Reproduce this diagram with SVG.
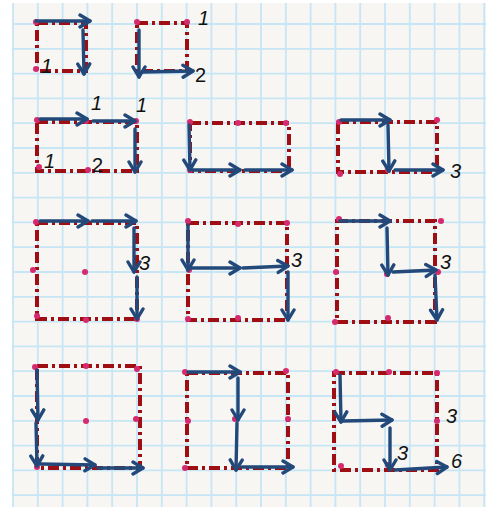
<svg xmlns="http://www.w3.org/2000/svg" width="490" height="508" viewBox="0 0 490 508">
<style>
.paper{fill:#f7f6f3}
.grid{stroke:#c6e5f5;stroke-width:1.8;fill:none}
.frame{fill:none;stroke:#9e0e12;stroke-width:4;stroke-dasharray:11 4 3 4}
.dot{fill:#d62a6f}
.arr{fill:none;stroke:#22497a;stroke-width:3.4;stroke-linecap:round;stroke-linejoin:round;marker-end:url(#head)}
.lbl{font-family:"Liberation Sans",Arial,sans-serif;font-size:20px;font-style:italic;fill:#111}
.up{font-style:normal}
</style>
<defs>
<marker id="head" viewBox="-12 -9 15 18" markerWidth="15" markerHeight="18" refX="0" refY="0" orient="auto" markerUnits="userSpaceOnUse">
<path d="M-10,-6 L0,0 L-10,6" fill="none" stroke="#22497a" stroke-width="3.4" stroke-linecap="round" stroke-linejoin="round"/>
</marker>
</defs>
<rect width="490" height="508" fill="#ffffff"/>
<rect class="paper" x="13" y="3" width="473" height="504"/>
<path class="grid" d="M13,3V507M37.8,3V507M62.6,3V507M87.4,3V507M112.2,3V507M137,3V507M161.8,3V507M186.6,3V507M211.4,3V507M236.2,3V507M261,3V507M285.8,3V507M310.6,3V507M335.4,3V507M360.2,3V507M385,3V507M409.8,3V507M434.6,3V507M459.4,3V507M484.2,3V507
M13,24H486M13,48.8H486M13,73.6H486M13,98.4H486M13,123.2H486M13,148H486M13,172.8H486M13,197.6H486M13,222.4H486M13,247.2H486M13,272H486M13,296.8H486M13,321.6H486M13,346.4H486M13,371.2H486M13,396H486M13,420.8H486M13,445.6H486M13,470.4H486M13,495.2H486"/>

<g id="fig1">
<rect class="frame" x="37" y="23" width="49" height="48"/>
<circle class="dot" cx="36" cy="22" r="3"/><circle class="dot" cx="36" cy="69" r="3"/>
<text class="lbl" x="41" y="73">1</text>
</g>
<g id="fig2">
<rect class="frame" x="137" y="23" width="50" height="48"/>
<circle class="dot" cx="137" cy="22" r="3"/><circle class="dot" cx="187" cy="22" r="3"/>
<text class="lbl" x="198" y="25">1</text>
<text class="lbl up" x="195" y="82">2</text>
</g>
<g id="fig3">
<rect class="frame" x="37" y="122" width="100" height="49"/>
<circle class="dot" cx="37" cy="120" r="3"/><circle class="dot" cx="86" cy="121" r="3"/><circle class="dot" cx="136" cy="121" r="3"/><circle class="dot" cx="39" cy="167" r="3"/><circle class="dot" cx="88" cy="170" r="3"/>
<text class="lbl" x="91" y="110">1</text>
<text class="lbl" x="136" y="112">1</text>
<text class="lbl" x="44" y="168">1</text>
<text class="lbl up" x="92" y="172">2</text>
</g>
<g id="fig4">
<rect class="frame" x="190" y="123" width="99" height="48"/>
<circle class="dot" cx="190" cy="122" r="3"/><circle class="dot" cx="238" cy="123" r="3"/><circle class="dot" cx="286" cy="123" r="3"/><circle class="dot" cx="190" cy="170" r="3"/>
</g>
<g id="fig5">
<rect class="frame" x="338" y="122" width="99" height="50"/>
<circle class="dot" cx="339" cy="122" r="3"/><circle class="dot" cx="437" cy="120" r="3"/><circle class="dot" cx="340" cy="174" r="3"/><circle class="dot" cx="388" cy="170" r="3"/>
<text class="lbl" x="450" y="178">3</text>
</g>
<g id="fig6">
<rect class="frame" x="37" y="223" width="100" height="96"/>
<circle class="dot" cx="36" cy="222" r="3"/><circle class="dot" cx="33" cy="270" r="3"/><circle class="dot" cx="85" cy="272" r="3"/><circle class="dot" cx="37" cy="316" r="3"/><circle class="dot" cx="86" cy="320" r="3"/><circle class="dot" cx="137" cy="319" r="3"/>
<text class="lbl" x="139" y="270">3</text>
</g>
<g id="fig7">
<rect class="frame" x="188" y="223" width="99" height="97"/>
<circle class="dot" cx="188" cy="221" r="3"/><circle class="dot" cx="238" cy="224" r="3"/><circle class="dot" cx="287" cy="223" r="3"/><circle class="dot" cx="189" cy="270" r="3"/><circle class="dot" cx="188" cy="319" r="3"/><circle class="dot" cx="238" cy="318" r="3"/>
<text class="lbl" x="291" y="267">3</text>
</g>
<g id="fig8">
<rect class="frame" x="337" y="221" width="98" height="101"/>
<circle class="dot" cx="339" cy="219" r="3"/><circle class="dot" cx="441" cy="221" r="3"/><circle class="dot" cx="336" cy="272" r="3"/><circle class="dot" cx="387" cy="274" r="3"/><circle class="dot" cx="438" cy="272" r="3"/><circle class="dot" cx="335" cy="322" r="3"/><circle class="dot" cx="388" cy="318" r="3"/>
<text class="lbl" x="440" y="269">3</text>
</g>
<g id="fig9">
<rect class="frame" x="37" y="366" width="103" height="102"/>
<circle class="dot" cx="35" cy="367" r="3"/><circle class="dot" cx="86" cy="366" r="3"/><circle class="dot" cx="137" cy="369" r="3"/><circle class="dot" cx="86" cy="421" r="3"/><circle class="dot" cx="136" cy="419" r="3"/><circle class="dot" cx="37" cy="467" r="3"/>
</g>
<g id="fig10">
<rect class="frame" x="187" y="373" width="101" height="95"/>
<circle class="dot" cx="185" cy="372" r="3"/><circle class="dot" cx="286" cy="371" r="3"/><circle class="dot" cx="188" cy="421" r="3"/><circle class="dot" cx="235" cy="419" r="3"/><circle class="dot" cx="288" cy="419" r="3"/><circle class="dot" cx="185" cy="468" r="3"/>
</g>
<g id="fig11">
<rect class="frame" x="334" y="373" width="103" height="97"/>
<circle class="dot" cx="336" cy="372" r="3"/><circle class="dot" cx="389" cy="372" r="3"/><circle class="dot" cx="437" cy="373" r="3"/><circle class="dot" cx="437" cy="421" r="3"/><circle class="dot" cx="341" cy="466" r="3"/><circle class="dot" cx="388" cy="465" r="3"/>
<text class="lbl" x="446" y="423">3</text>
<text class="lbl" x="397" y="460">3</text>
<text class="lbl" x="451" y="468">6</text>
</g>

<g id="connectors">
<path class="arr" d="M36,21 L90,21"/>
<path class="arr" d="M83,30 L84,74"/>
<path class="arr" d="M139,30 L139,77"/>
<path class="arr" d="M142,72 L193,71"/>
<path class="arr" d="M40,119 L87,119"/>
<path class="arr" d="M93,121 L135,121"/>
<path class="arr" d="M135,129 L135,172"/>
<path class="arr" d="M189,125 L190,170"/>
<path class="arr" d="M193,170 L240,170"/>
<path class="arr" d="M245,170 L292,170"/>
<path class="arr" d="M341,120 L390,120"/>
<path class="arr" d="M388,125 L389,171"/>
<path class="arr" d="M395,170 L443,170"/>
<path class="arr" d="M40,221 L88,221"/>
<path class="arr" d="M92,221 L136,221"/>
<path class="arr" d="M134,228 L134,272"/>
<path class="arr" d="M137,277 L137,319"/>
<path class="arr" d="M188,225 L188,270"/>
<path class="arr" d="M190,268 L240,268"/>
<path class="arr" d="M243,268 L288,266"/>
<path class="arr" d="M288,272 L288,320"/>
<path class="arr" d="M340,221 L390,221"/>
<path class="arr" d="M387,228 L388,275"/>
<path class="arr" d="M393,272 L436,270"/>
<path class="arr" d="M435,275 L437,320"/>
<path class="arr" d="M37,370 L38,420"/>
<path class="arr" d="M36,423 L37,466"/>
<path class="arr" d="M40,464 L95,465"/>
<path class="arr" d="M98,468 L143,468"/>
<path class="arr" d="M188,372 L240,372"/>
<path class="arr" d="M238,378 L238,420"/>
<path class="arr" d="M237,423 L236,470"/>
<path class="arr" d="M242,467 L293,467"/>
<path class="arr" d="M340,375 L341,422"/>
<path class="arr" d="M343,421 L392,420"/>
<path class="arr" d="M390,428 L390,470"/>
<path class="arr" d="M395,470 L447,467"/>
</g>
</svg>
